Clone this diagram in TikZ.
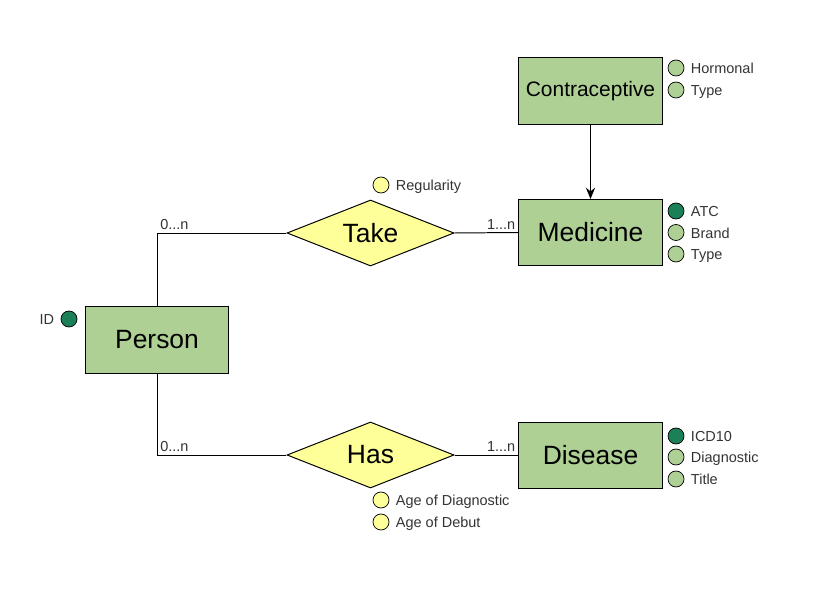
\documentclass[tikz,border=0pt]{standalone}
\usepackage{fontspec}
\setmainfont{Liberation Sans}
\usepackage{tikz}
\usetikzlibrary{arrows.meta,shapes,positioning}
\definecolor{entgreen}{HTML}{AED095}
\definecolor{keygreen}{HTML}{1B7F58}
\definecolor{relyellow}{HTML}{FFFF99}
\definecolor{txtgray}{HTML}{333333}

\begin{document}
\begin{tikzpicture}[
		x=0.025cm, y=-0.025cm,
		entity/.style={rectangle, draw, fill=entgreen, line width=0.7pt, minimum width=3.575cm, minimum height=1.65cm, font=\fontsize{18.8}{22}\selectfont},
		relation/.style={diamond, draw, fill=relyellow, line width=0.7pt, inner sep=0pt, aspect=2.53, minimum width=4.175cm, minimum height=1.65cm, font=\fontsize{18.8}{22}\selectfont},
		attr/.style={circle, draw, fill=entgreen, line width=0.5pt, inner sep=0pt, minimum size=0.4cm},
		keyattr/.style={attr, fill=keygreen},
		relattr/.style={attr, fill=relyellow},
		every label/.style={text=txtgray, font=\fontsize{10.3}{12}\selectfont, inner sep=0pt, text height=8.4pt, text depth=0.4pt},
		label distance=4.5pt,
		card/.style={text=txtgray, font=\fontsize{10.3}{12}\selectfont, inner sep=2pt},
		->,>={Stealth[length=8pt, width=6.5pt]}
		]
		\useasboundingbox (0,0) rectangle (834,602);
		
		% Les entites
		\node[entity, font=\fontsize{14.9}{18}\selectfont] (Contra) at (590.5, 91) {Contraceptive};
		\node[entity] (Med) at (590.5, 232.5) {Medicine};
		\node[entity] (Dis) at (590.5, 455) {Disease};
		\node[entity] (Pers) at (157, 340) {Person};
		
		% Les associations
		\node[relation] (Take) at (370.5, 233) {Take};
		\node[relation] (Has) at (370.5, 455) {Has};
		
		% Les attributs
		\node[attr, label=right:Hormonal] (hormonal) at (676, 68) {};
		\node[attr, label=right:Type] (ctype) at (676, 90) {};
		\node[keyattr, label=right:ATC] (atc) at (676, 211) {};
		\node[attr, label=right:Brand] (brand) at (676, 232.5) {};
		\node[attr, label=right:Type] (mtype) at (676, 254) {};
		\node[keyattr, label=right:ICD10] (icd) at (676, 436) {};
		\node[attr, label=right:Diagnostic] (diag) at (676, 457) {};
		\node[attr, label=right:Title] (title) at (676, 479) {};
		\node[keyattr, label=left:ID] (id) at (69, 319) {};
		\node[relattr, label=right:Regularity] (regul) at (381, 185) {};
		\node[relattr, label=right:Age of Diagnostic] (agediag) at (381, 500) {};
		\node[relattr, label=right:Age of Debut] (agedeb) at (381, 522) {};
		
		% Les liens
		\draw[-, line width=0.7pt] (Pers.north) |- node[pos=0.5, card, anchor=south west] {0...n} (Take.west);
		\draw[-, line width=0.7pt] (Take.east) -- node[pos=1, card, anchor=south east] {1...n} (Med.west);
		\draw[-, line width=0.7pt] (Pers.south) |- node[pos=0.5, card, anchor=south west] {0...n} (Has.west);
		\draw[-, line width=0.7pt] (Has.east) -- node[pos=1, card, anchor=south east] {1...n} (Dis.west);
		\draw[->, line width=0.7pt] (Contra.south) -- (Med.north);
	\end{tikzpicture}
\end{document}
